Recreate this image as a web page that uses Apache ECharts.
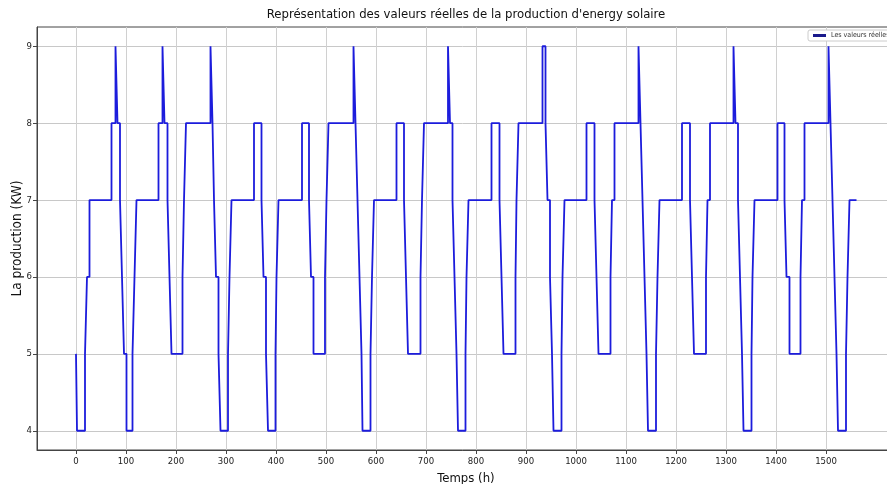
<!DOCTYPE html>
<html>
<head>
<meta charset="utf-8">
<script src="https://cdn.jsdelivr.net/npm/echarts@6/dist/echarts.min.js"></script>
<style>
html,body{margin:0;padding:0;background:#fff;}
#chart{width:887px;height:484px;}
</style>
</head>
<body>
<div id="chart"></div>
<script>
// Hour at which each new production level starts (h)
const changeTimes = [
  0, 2, 18, 22, 27, 71, 79, 83, 88, 92, 96, 101, 113, 117, 121, 165, 173, 177, 183, 187,
  191, 213, 216, 220, 269, 273, 276, 280, 285, 289, 304, 307, 311, 356, 371, 375, 380, 384,
  399, 401, 405, 452, 466, 470, 475, 498, 501, 505, 555, 559, 563, 567, 571, 573, 589, 592,
  596, 641, 656, 660, 664, 689, 692, 696, 744, 748, 753, 757, 761, 764, 779, 781, 785, 831,
  847, 851, 855, 879, 881, 885, 933, 939, 943, 948, 952, 955, 971, 973, 977, 1021, 1037,
  1041, 1045, 1069, 1072, 1077, 1125, 1129, 1133, 1137, 1141, 1144, 1160, 1163, 1167, 1212,
  1228, 1232, 1236, 1260, 1263, 1268, 1315, 1319, 1324, 1328, 1332, 1335, 1351, 1353, 1357,
  1403, 1417, 1421, 1427, 1449, 1452, 1457, 1505, 1509, 1513, 1517, 1521, 1524, 1540, 1543,
  1547
];
// Production level (KW) from each change time on
const levels = [
  5, 4, 5, 6, 7, 8, 9, 8, 7, 6, 5, 4, 5, 6, 7, 8, 9, 8, 7, 6,
  5, 6, 7, 8, 9, 8, 7, 6, 5, 4, 5, 6, 7, 8, 7, 6, 5, 4,
  5, 6, 7, 8, 7, 6, 5, 6, 7, 8, 9, 8, 7, 6, 5, 4, 5, 6,
  7, 8, 7, 6, 5, 6, 7, 8, 9, 8, 7, 6, 5, 4, 5, 6, 7, 8,
  7, 6, 5, 6, 7, 8, 9, 8, 7, 6, 5, 4, 5, 6, 7, 8, 7,
  6, 5, 6, 7, 8, 9, 8, 7, 6, 5, 4, 5, 6, 7, 8,
  7, 6, 5, 6, 7, 8, 9, 8, 7, 6, 5, 4, 5, 6, 7,
  8, 7, 6, 5, 6, 7, 8, 9, 8, 7, 6, 5, 4, 5, 6,
  7
];
const endTime = 1561;
const xTicks = [0, 100, 200, 300, 400, 500, 600, 700, 800, 900, 1000, 1100, 1200, 1300, 1400, 1500];
const yTicks = [4, 5, 6, 7, 8, 9];

const titleText = "Représentation des valeurs réelles de la production d'energy solaire";
const seriesName = "Les valeurs réelles";

const points = changeTimes.map((t, i) => [t, levels[i]]);
points.push([endTime, levels[levels.length - 1]]);

const font = '"DejaVu Sans Condensed", "DejaVu Sans", sans-serif';
const chart = echarts.init(document.getElementById('chart'), null, {renderer: 'canvas'});
chart.setOption({
  animation: false,
  backgroundColor: '#ffffff',
  graphic: [{
    type: 'text', x: 466, y: 8,
    style: {text: titleText, fill: '#111', font: '13px ' + font, textAlign: 'center', textVerticalAlign: 'top'}
  }],
  legend: {
    left: 808, top: 30,
    padding: [2, 5, 2, 5],
    itemWidth: 13, itemHeight: 3, itemGap: 5,
    borderColor: '#cccccc', borderWidth: 1, borderRadius: 2,
    backgroundColor: '#ffffff',
    textStyle: {fontSize: 7, color: '#333', fontFamily: font},
    data: [{name: seriesName, icon: 'rect', itemStyle: {color: '#1a1a8c'}}]
  },
  grid: {left: 37, right: -8, top: 27, bottom: 34, show: true, borderColor: '#444', borderWidth: 1, outerBoundsMode: 'none', containLabel: false},
  xAxis: {
    type: 'value', min: -78, max: 1638,
    name: 'Temps (h)', nameLocation: 'middle', nameGap: 21,
    nameTextStyle: {fontSize: 13, color: '#111', fontFamily: font},
    axisLine: {show: true, onZero: false, lineStyle: {color: '#444', width: 1}},
    axisTick: {show: true, length: 4, customValues: xTicks, lineStyle: {color: '#444'}},
    axisLabel: {customValues: xTicks, fontSize: 9.5, color: '#222', margin: 7, fontFamily: font,
      formatter: v => String(v)},
    splitLine: {show: true, lineStyle: {color: '#d0d0d0', width: 1}}
  },
  yAxis: {
    type: 'value', min: 3.75, max: 9.25,
    name: 'La production (KW)', nameLocation: 'middle', nameGap: 13, nameRotate: 90,
    nameMoveOverlap: false,
    nameTextStyle: {fontSize: 13.5, color: '#111', fontFamily: font},
    axisLine: {show: true, onZero: false, lineStyle: {color: '#444', width: 1}},
    axisTick: {show: true, length: 4, customValues: yTicks, lineStyle: {color: '#444'}},
    axisLabel: {customValues: yTicks, fontSize: 9.5, color: '#222', margin: 5, fontFamily: font,
      formatter: v => String(v)},
    splitLine: {show: true, lineStyle: {color: '#c8c8c8', width: 1}}
  },
  series: [{
    name: seriesName,
    type: 'line',
    step: 'end',
    data: points,
    showSymbol: false,
    symbol: 'none',
    lineStyle: {color: '#1c1cdc', width: 1.8},
    itemStyle: {color: '#1c1cdc'}
  }]
});
</script>
</body>
</html>
